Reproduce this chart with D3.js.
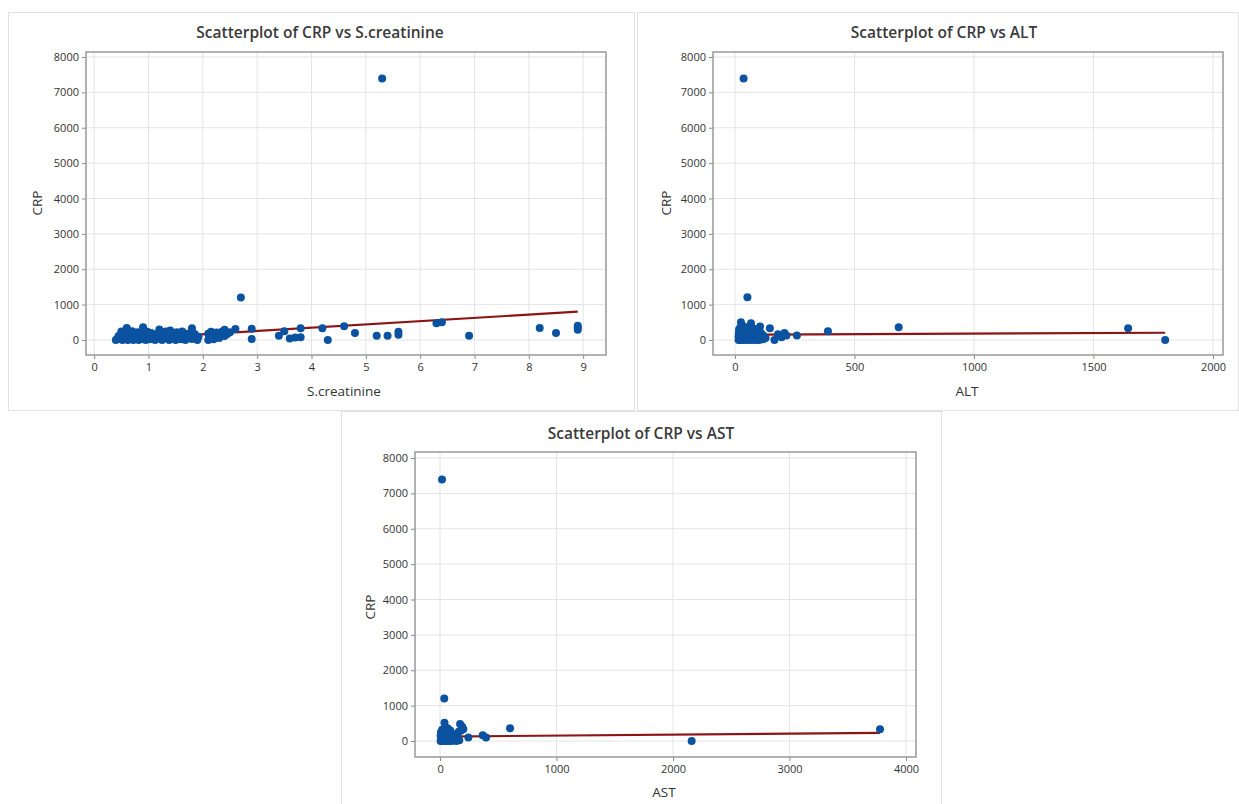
<!DOCTYPE html>
<html>
<head>
<meta charset="utf-8">
<script src="https://cdn.jsdelivr.net/npm/d3@7"></script>
<style>
  body { margin: 0; background: #fff; }
  text { font-family: "Open Sans", "Noto Sans", sans-serif; fill: #333; }
  .tick text { font-size: 11px; }
  .title { font-size: 15.5px; font-weight: 600; fill: #3a3a3a; }
  .axis-label { font-size: 13.5px; }
</style>
</head>
<body>
<script>
// values: [x, CRP]
const creatininePts = [
  [0.40,0],[0.42,30],[0.45,110],[0.48,60],[0.50,180],[0.50,240],[0.52,0],[0.55,140],[0.55,40],
  [0.58,260],[0.60,340],[0.60,90],[0.62,0],[0.63,200],[0.65,150],[0.68,30],[0.70,250],[0.70,100],
  [0.72,0],[0.75,170],[0.78,60],[0.80,220],[0.80,120],[0.82,0],[0.85,80],[0.88,190],[0.90,360],
  [0.90,30],[0.92,140],[0.95,0],[0.98,230],[1.00,90],[1.00,160],[1.02,20],[1.05,200],[1.08,60],
  [1.10,130],[1.12,0],[1.15,170],[1.18,40],[1.20,300],[1.20,100],[1.22,210],[1.25,0],[1.28,150],
  [1.30,60],[1.32,240],[1.35,110],[1.38,0],[1.40,270],[1.42,180],[1.45,50],[1.48,130],[1.50,0],
  [1.52,220],[1.55,90],[1.58,160],[1.60,20],[1.62,240],[1.65,110],[1.68,0],[1.70,180],[1.72,60],
  [1.75,140],[1.80,330],[1.80,30],[1.85,170],[1.90,0],[1.92,90],
  [2.10,0],[2.10,180],[2.12,80],[2.15,230],[2.20,20],[2.20,150],[2.25,210],[2.30,60],[2.35,230],
  [2.40,110],[2.40,290],[2.45,170],[2.50,220],[2.60,310],[2.70,1200],[2.90,320],[2.90,30],
  [3.40,120],[3.50,250],[3.60,40],[3.70,70],[3.80,80],[3.80,330],[4.20,330],[4.30,0],[4.60,390],
  [4.80,200],[5.20,120],[5.30,7390],[5.40,120],[5.60,150],[5.60,230],[6.30,470],[6.40,500],
  [6.90,120],[8.20,340],[8.50,200],[8.90,290],[8.90,350],[8.90,400]
];

const altPts = [
  [15,0],[15,100],[16,200],[17,300],[18,50],[20,150],[20,250],[22,0],[22,350],[24,100],[25,500],
  [26,200],[28,40],[30,300],[30,130],[32,0],[33,220],[35,80],[36,7390],[37,380],[38,160],[40,0],
  [40,270],[42,60],[45,190],[46,330],[48,20],[50,120],[52,1210],[52,240],[55,0],[55,300],[58,80],
  [60,170],[62,30],[65,260],[67,470],[68,110],[70,0],[72,200],[75,60],[78,320],[80,140],[82,10],
  [85,230],[88,90],[90,0],[92,170],[95,280],[98,50],[100,130],[102,0],[105,380],[108,200],[110,70],
  [115,150],[118,20],[122,100],[128,60],
  [146,330],[165,0],[180,160],[195,80],[207,200],[215,130],[259,130],[389,250],[685,360],
  [1645,330],[1800,0]
];

const astPts = [
  [5,0],[5,150],[8,250],[10,80],[17,7390],[15,0],[15,200],[18,320],[20,100],[22,40],[25,170],
  [28,260],[30,0],[36,1200],[35,120],[38,517],[40,220],[42,60],[45,330],[48,0],[50,150],[55,270],
  [58,90],[60,20],[62,200],[65,360],[70,120],[72,0],[75,240],[80,60],[85,180],[88,300],[90,20],
  [95,110],[100,0],[105,200],[110,60],[118,140],[125,20],[132,90],[140,0],[150,170],[155,60],
  [160,260],[165,20],[172,480],[180,300],[190,400],[200,330],[243,100],[366,160],[395,100],
  [601,360],[2160,0],[3777,330]
];

// fitted regression line end points
const creatinineFit = [[0.4, 15], [8.9, 800]];
const altFit = [[15, 150], [1800, 205]];
const astFit = [[5, 125], [3777, 230]];

const crpTicks = [0, 1000, 2000, 3000, 4000, 5000, 6000, 7000, 8000];
const creatinineTicks = [0, 1, 2, 3, 4, 5, 6, 7, 8, 9];
const altTicks = [0, 500, 1000, 1500, 2000];
const astTicks = [0, 1000, 2000, 3000, 4000];

let svg = null;

const panels = [
  {
    title: "Scatterplot of CRP vs S.creatinine", xLabel: "S.creatinine",
    pts: creatininePts, fit: creatinineFit, xTicks: creatinineTicks,
    box: {x: 8.5, y: 12.5, w: 626, h: 398},
    frame: {l: 86, r: 606, t: 52, b: 355},
    xDomain: [-0.15, 9.42], yDomain: [-424, 8141],
    titleX: 320, titleY: 38, xLabelX: 344, xLabelY: 396, yLabelX: 42, yLabelY: 203
  },
  {
    title: "Scatterplot of CRP vs ALT", xLabel: "ALT",
    pts: altPts, fit: altFit, xTicks: altTicks,
    box: {x: 637.5, y: 12.5, w: 601, h: 398},
    frame: {l: 713, r: 1223, t: 52, b: 355},
    xDomain: [-92, 2042], yDomain: [-424, 8141],
    titleX: 944, titleY: 38, xLabelX: 967, xLabelY: 396, yLabelX: 671, yLabelY: 203
  },
  {
    title: "Scatterplot of CRP vs AST", xLabel: "AST",
    pts: astPts, fit: astFit, xTicks: astTicks,
    box: {x: 341.5, y: 411.5, w: 600, h: 400},
    frame: {l: 415, r: 916, t: 452, b: 757},
    xDomain: [-215, 4086], yDomain: [-452, 8170],
    titleX: 641, titleY: 439, xLabelX: 664, xLabelY: 797, yLabelX: 375, yLabelY: 607
  }
];

appendSvg("body");
panels.forEach(drawPanel);

function appendSvg(domElement) {
  svg = d3.select(domElement).append("svg")
    .attr("width", 1239)
    .attr("height", 804);
  svg.append("rect").attr("width", 1239).attr("height", 804).attr("fill", "#fff");
}

function drawPanel(p) {
  const g = svg.append("g");
  const f = p.frame;

  g.append("rect")
    .attr("x", p.box.x).attr("y", p.box.y)
    .attr("width", p.box.w).attr("height", p.box.h)
    .attr("fill", "#fff").attr("stroke", "#e2e2e2");

  const x = d3.scaleLinear().domain(p.xDomain).range([f.l, f.r]);
  const y = d3.scaleLinear().domain(p.yDomain).range([f.b, f.t]);

  // grid
  g.append("g").selectAll("line").data(p.xTicks).enter().append("line")
    .attr("x1", d => x(d)).attr("x2", d => x(d))
    .attr("y1", f.t).attr("y2", f.b)
    .attr("stroke", "#e4e4e4").attr("stroke-width", 1);
  g.append("g").selectAll("line").data(crpTicks).enter().append("line")
    .attr("y1", d => y(d)).attr("y2", d => y(d))
    .attr("x1", f.l).attr("x2", f.r)
    .attr("stroke", "#e4e4e4").attr("stroke-width", 1);

  // axes
  const fmt = d3.format("d");
  const xa = g.append("g")
    .attr("transform", `translate(0, ${f.b})`)
    .call(d3.axisBottom(x).tickValues(p.xTicks).tickFormat(fmt).tickSize(4).tickSizeOuter(0).tickPadding(4));
  const ya = g.append("g")
    .attr("transform", `translate(${f.l}, 0)`)
    .call(d3.axisLeft(y).tickValues(crpTicks).tickFormat(fmt).tickSize(4).tickSizeOuter(0).tickPadding(3));
  [xa, ya].forEach(a => {
    a.select(".domain").remove();
    a.selectAll(".tick line").attr("stroke", "#888");
    a.selectAll(".tick text").attr("fill", "#333").attr("font-family", null);
  });

  // frame
  g.append("rect")
    .attr("x", f.l).attr("y", f.t)
    .attr("width", f.r - f.l).attr("height", f.b - f.t)
    .attr("fill", "none").attr("stroke", "#999").attr("stroke-width", 1.5);

  // fit line
  g.append("path")
    .datum(p.fit)
    .attr("d", d3.line().x(d => x(d[0])).y(d => y(d[1])))
    .attr("stroke", "#8e1414").attr("stroke-width", 2.2).attr("fill", "none");

  // points
  g.append("g").selectAll("circle").data(p.pts).enter().append("circle")
    .attr("cx", d => x(d[0]))
    .attr("cy", d => y(d[1]))
    .attr("r", 4)
    .attr("fill", "#0b52a0");

  // texts
  g.append("text").attr("class", "title")
    .attr("x", p.titleX).attr("y", p.titleY)
    .attr("text-anchor", "middle").text(p.title);
  g.append("text").attr("class", "axis-label")
    .attr("x", p.xLabelX).attr("y", p.xLabelY)
    .attr("text-anchor", "middle").text(p.xLabel);
  g.append("text").attr("class", "axis-label")
    .attr("transform", `translate(${p.yLabelX}, ${p.yLabelY}) rotate(-90)`)
    .attr("text-anchor", "middle").text("CRP");
}
</script>
</body>
</html>
